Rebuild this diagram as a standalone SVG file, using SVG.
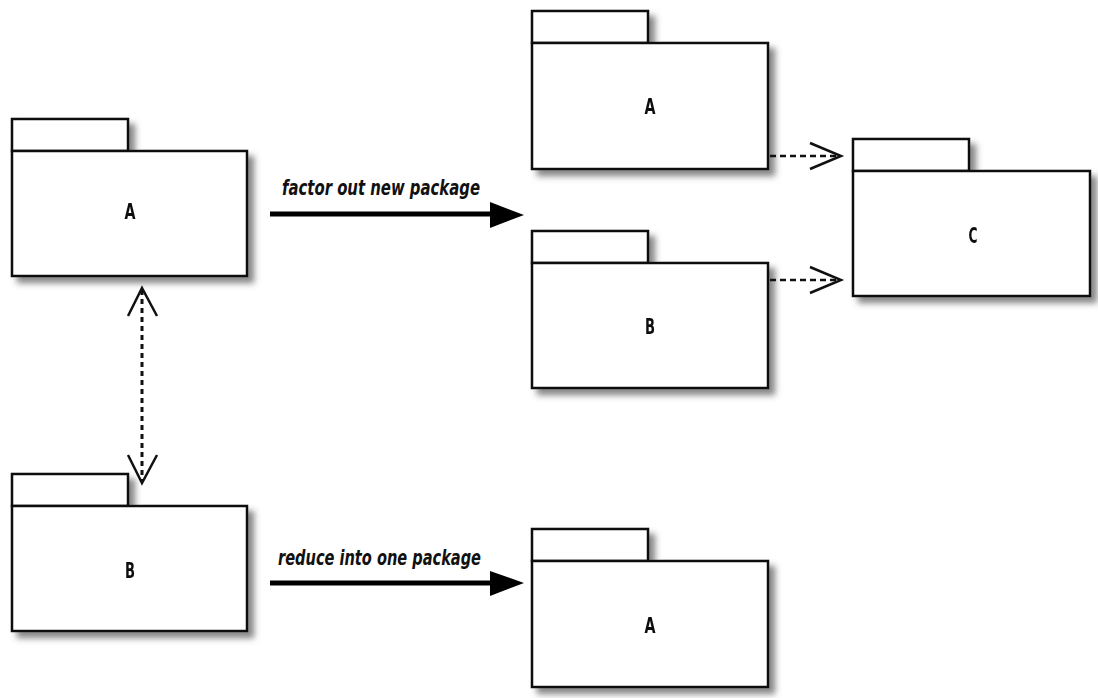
<svg xmlns="http://www.w3.org/2000/svg" width="1098" height="698" viewBox="0 0 1098 698">
<style>
.pk{fill:#fff;stroke:#111;stroke-width:2.5}
.lbl{font-family:"DejaVu Sans Condensed","DejaVu Sans",sans-serif;font-stretch:condensed;font-weight:bold;font-size:21px;fill:#111;text-anchor:middle}
.cap{font-family:"DejaVu Sans Condensed","DejaVu Sans",sans-serif;font-stretch:condensed;font-style:italic;font-weight:bold;font-size:22px;fill:#111}
.thick{stroke:#000;stroke-width:5;fill:none}
.dash{stroke:#111;stroke-width:2.5;fill:none;stroke-dasharray:6 4}
.dot{stroke:#111;stroke-width:3;fill:none;stroke-dasharray:5 4}
.open{stroke:#111;stroke-width:2.5;fill:none}
</style>
<defs>
<filter id="sh" x="-10%" y="-10%" width="130%" height="130%">
<feDropShadow dx="6" dy="6" stdDeviation="3" flood-color="#555" flood-opacity="0.7"/>
</filter>
</defs>
<rect width="1098" height="698" fill="#fff"/>
<g id="pkgA_left" filter="url(#sh)">
<rect class="pk" x="12" y="119" width="116" height="32"/>
<rect class="pk" x="12" y="151" width="235" height="125"/>
<text class="lbl" x="130" y="219" textLength="11" lengthAdjust="spacingAndGlyphs">A</text>
</g>
<g id="pkgB_left" filter="url(#sh)">
<rect class="pk" x="12" y="474" width="116" height="32"/>
<rect class="pk" x="12" y="506" width="235" height="125"/>
<text class="lbl" x="130" y="578" textLength="10" lengthAdjust="spacingAndGlyphs">B</text>
</g>
<g id="pkgA_top" filter="url(#sh)">
<rect class="pk" x="532" y="11" width="116" height="32"/>
<rect class="pk" x="532" y="43" width="236" height="126"/>
<text class="lbl" x="650" y="114" textLength="11" lengthAdjust="spacingAndGlyphs">A</text>
</g>
<g id="pkgB_mid" filter="url(#sh)">
<rect class="pk" x="532" y="231" width="116" height="32"/>
<rect class="pk" x="532" y="263" width="236" height="125"/>
<text class="lbl" x="650" y="334" textLength="10" lengthAdjust="spacingAndGlyphs">B</text>
</g>
<g id="pkgC" filter="url(#sh)">
<rect class="pk" x="853" y="139" width="116" height="32"/>
<rect class="pk" x="853" y="171" width="237" height="125"/>
<text class="lbl" x="973" y="243" textLength="9" lengthAdjust="spacingAndGlyphs">C</text>
</g>
<g id="pkgA_bottom" filter="url(#sh)">
<rect class="pk" x="532" y="529" width="116" height="32"/>
<rect class="pk" x="532" y="561" width="236" height="126"/>
<text class="lbl" x="650" y="633" textLength="11" lengthAdjust="spacingAndGlyphs">A</text>
</g>
<g id="connectors">
<line class="thick" x1="270" y1="214" x2="492" y2="214"/>
<polygon points="490,202 524,215 490,228" fill="#000"/>
<text class="cap" x="282" y="195" textLength="198" lengthAdjust="spacingAndGlyphs">factor out new package</text>
<line class="thick" x1="270" y1="583" x2="492" y2="583"/>
<polygon points="490,571 524,583 490,596" fill="#000"/>
<text class="cap" x="278" y="565" textLength="203" lengthAdjust="spacingAndGlyphs">reduce into one package</text>
<line class="dash" x1="770" y1="156" x2="838" y2="156"/>
<polyline class="open" points="810,143 841,156 810,169"/>
<line class="dash" x1="770" y1="280" x2="838" y2="280"/>
<polyline class="open" points="810,267 841,280 810,293"/>
<line class="dot" x1="142" y1="290" x2="142" y2="481"/>
<polyline class="open" points="128,316 142,288 157,316"/>
<polyline class="open" points="128,455 142,483 157,455"/>
</g>
</svg>
